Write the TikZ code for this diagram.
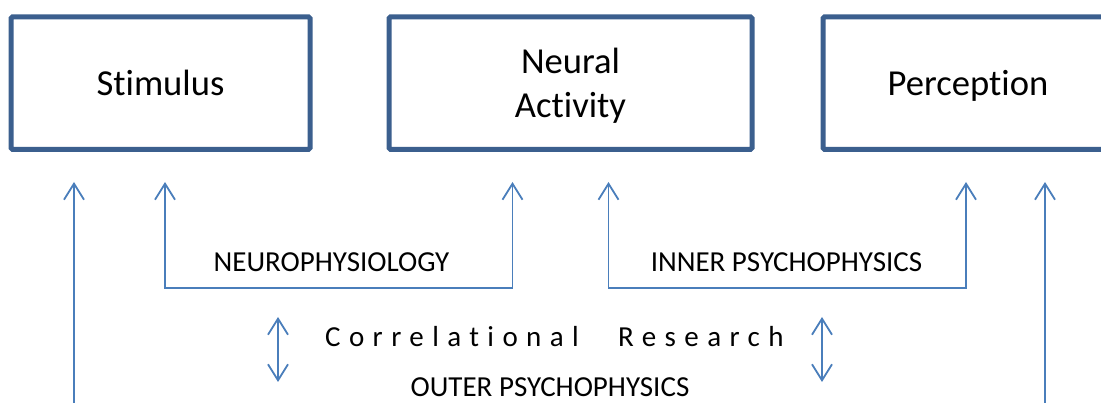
\documentclass[tikz,border=0pt]{standalone}
\usepackage{fontspec}
\setmainfont{Carlito}[Ligatures=NoCommon]
\newfontfamily\trackedfont{Carlito}[LetterSpace=29,Ligatures=NoCommon]
\usetikzlibrary{arrows.meta}
\definecolor{boxblue}{HTML}{3B5F8E}
\definecolor{lineblue}{HTML}{4A7EBB}
\begin{document}
\begin{tikzpicture}[x=1pt,y=-1pt,
  stage/.style={draw=boxblue, line width=5pt, rounded corners=1.5pt, fill=white,
    minimum height=132.5pt, inner sep=0pt, align=center, text depth=0pt,
    font=\fontsize{36.6}{44}\selectfont},
  fieldlabel/.style={inner sep=0pt, anchor=base, font=\fontsize{29}{34}\selectfont},
  tracked/.style={inner sep=0pt, anchor=base west, font=\fontsize{29}{34}\trackedfont},
  link/.style={draw=lineblue, line width=1.8pt,
    -{Straight Barb[length=16pt,width=20pt,line width=1.8pt]}},
  twoway/.style={draw=lineblue, line width=1.8pt,
    {Straight Barb[length=16pt,width=20pt,line width=1.8pt]}-{Straight Barb[length=16pt,width=20pt,line width=1.8pt]}}]
\path[use as bounding box] (0,0) rectangle (1101,403);
\clip (0,0) rectangle (1101,403);

% the three stages
\node[stage, minimum width=299pt] (stim) at (160.5,83.2) {Stimulus};
\node[stage, minimum width=363pt] (neural) at (570.5,83.2) {Neural\\Activity};
\node[stage, minimum width=290pt] (perc) at (968,83.2) {Perception};

% end points and corners of the connectors
\coordinate (outerL0) at (74,420);
\coordinate (outerL1) at (74,182);
\coordinate (outerR0) at (1045,420);
\coordinate (outerR1) at (1045,182);
\coordinate (neuroA) at (165,182);
\coordinate (neuroB) at (512.5,182);
\coordinate (neuroA') at (165,288);
\coordinate (neuroB') at (512.5,288);
\coordinate (innerA) at (608.5,182);
\coordinate (innerB) at (966,182);
\coordinate (innerA') at (608.5,288);
\coordinate (innerB') at (966,288);
\coordinate (corrLa) at (278,317);
\coordinate (corrLb) at (278,382);
\coordinate (corrRa) at (822,317);
\coordinate (corrRb) at (822,382);

% outer psychophysics: long arrows
\draw[link] (outerL0) -- (outerL1);
\draw[link] (outerR0) -- (outerR1);

% neurophysiology and inner psychophysics brackets
\draw[twoway] (neuroA) -- (neuroA') -- (neuroB') -- (neuroB);
\draw[twoway] (innerA) -- (innerA') -- (innerB') -- (innerB);

% correlational research double arrows
\draw[twoway] (corrLa) -- (corrLb);
\draw[twoway] (corrRa) -- (corrRb);

% labels
\node[fieldlabel] (neuro) at (331.5,272) {NEUROPHYSIOLOGY};
\node[fieldlabel] (inner) at (786.5,272) {INNER PSYCHOPHYSICS};
\node[tracked] (corr) at (325,347) {Correlational};
\node[tracked] (research) at (618,347) {Research};
\node[fieldlabel] (outer) at (550,397) {OUTER PSYCHOPHYSICS};
\end{tikzpicture}
\end{document}
